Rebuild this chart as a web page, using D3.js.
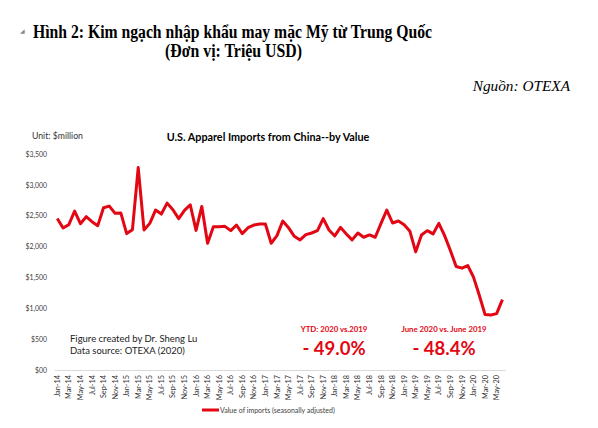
<!DOCTYPE html>
<html><head><meta charset="utf-8">
<script src="https://cdn.jsdelivr.net/npm/d3@7"></script>
<style>body{margin:0;background:#fff}svg{display:block}</style>
</head><body>
<script>
const months = ["Jan","Feb","Mar","Apr","May","Jun","Jul","Aug","Sep","Oct","Nov","Dec"];
const years = ["14","15","16","17","18","19","20"];
const categories = [];
years.forEach(y => months.forEach(m => { if (!(y === "20" && months.indexOf(m) > 5)) categories.push(m + "-" + y); }));
const values = [
  2456, 2301, 2355, 2576, 2371, 2484, 2403, 2339, 2629, 2656, 2538, 2543,
  2210, 2274, 3280, 2269, 2376, 2592, 2527, 2704, 2597, 2452, 2586, 2677,
  2262, 2650, 2054, 2323, 2323, 2328, 2258, 2349, 2210, 2306, 2349, 2366,
  2366, 2054, 2177, 2414, 2306, 2166, 2108, 2194, 2220, 2258, 2452, 2269,
  2172, 2311, 2205, 2108, 2220, 2151, 2188, 2151, 2376, 2592, 2382, 2414,
  2355, 2247, 1914, 2188, 2258, 2205, 2376, 2177, 1935, 1677, 1650, 1693,
  1505, 1210, 898, 892, 914, 1140
];
const yTicks = [0, 500, 1000, 1500, 2000, 2500, 3000, 3500];
const yTickLabels = ["$00", "$500", "$1,000", "$1,500", "$2,000", "$2,500", "$3,000", "$3,500"];
const seriesName = "Value of imports (seasonally adjusted)";

const W = 598, H = 428;
const svg = d3.select("body").append("svg").attr("width", W).attr("height", H);
const red = "#e30613";

// Header
svg.append("text").attr("x", 20).attr("y", 33).attr("font-family", "DejaVu Sans").attr("font-size", 6).attr("fill", "#888").text("◢");
svg.append("text").attr("x", 33).attr("y", 38).attr("font-family", "Liberation Serif").attr("font-weight", "bold").attr("font-size", 18).attr("fill", "#000")
  .attr("textLength", 399).attr("lengthAdjust", "spacingAndGlyphs")
  .text("Hình 2: Kim ngạch nhập khẩu may mặc Mỹ từ Trung Quốc");
svg.append("text").attr("x", 165).attr("y", 57).attr("font-family", "Liberation Serif").attr("font-weight", "bold").attr("font-size", 18).attr("fill", "#000")
  .attr("textLength", 137).attr("lengthAdjust", "spacingAndGlyphs")
  .text("(Đơn vị: Triệu USD)");
svg.append("text").attr("x", 570).attr("y", 91).attr("text-anchor", "end").attr("font-family", "Liberation Serif").attr("font-style", "italic").attr("font-size", 15.3).attr("fill", "#000")
  .text("Nguồn: OTEXA");

// Chart
const x = d3.scaleBand().domain(categories).range([54.4, 505.3]);
const y = d3.scaleLinear().domain([0, 3500]).range([370, 154]);
const fontC = "Lato, 'Open Sans', sans-serif";

svg.append("text").attr("x", 32).attr("y", 139).attr("font-family", fontC).attr("font-size", 8.7).attr("fill", "#333").text("Unit: $million");
svg.append("text").attr("x", 268).attr("y", 140.5).attr("text-anchor", "middle").attr("font-family", fontC).attr("font-weight", "bold").attr("font-size", 10.8).attr("fill", "#000")
  .text("U.S. Apparel Imports from China--by Value");

// y axis labels
const yAxis = d3.axisLeft(y).tickValues(yTicks).tickFormat((d, i) => yTickLabels[i]).tickSize(0).tickPadding(0);
const gy = svg.append("g").attr("transform", "translate(47,0)").call(yAxis);
gy.select(".domain").remove();
gy.selectAll("text").attr("font-family", fontC).attr("font-size", 6.9).attr("fill", "#404040");

// x axis
const xAxis = d3.axisBottom(x).tickValues(categories.filter((d, i) => i % 2 === 0)).tickSize(0).tickPadding(0);
const gx = svg.append("g").attr("transform", "translate(0,370)").call(xAxis);
gx.select(".domain").attr("stroke", "#d9d9d9").attr("stroke-width", 1);
gx.selectAll(".tick text").attr("font-family", fontC).attr("font-size", 7.3).attr("fill", "#333")
  .attr("text-anchor", "end").attr("transform", "rotate(-90)").attr("x", -5).attr("y", 0).attr("dy", "0.35em");

// line
const line = d3.line().x((d, i) => x(categories[i]) + x.bandwidth() / 2).y(d => y(d));
svg.append("path").datum(values).attr("d", line).attr("fill", "none").attr("stroke", red).attr("stroke-width", 3).attr("stroke-linejoin", "round");

// notes
svg.append("text").attr("x", 70).attr("y", 342).attr("font-family", fontC).attr("font-size", 9.5).attr("fill", "#222").text("Figure created by Dr. Sheng Lu");
svg.append("text").attr("x", 70).attr("y", 353.5).attr("font-family", fontC).attr("font-size", 9.5).attr("fill", "#222").text("Data source: OTEXA (2020)");

svg.append("text").attr("x", 334).attr("y", 332).attr("text-anchor", "middle").attr("font-family", fontC).attr("font-weight", "bold").attr("font-size", 7.8).attr("fill", red).text("YTD: 2020  vs.2019");
svg.append("text").attr("x", 334).attr("y", 355).attr("text-anchor", "middle").attr("font-family", fontC).attr("font-weight", "bold").attr("font-size", 18.5).attr("fill", red).text("- 49.0%");
svg.append("text").attr("x", 444).attr("y", 332).attr("text-anchor", "middle").attr("font-family", fontC).attr("font-weight", "bold").attr("font-size", 7.8).attr("fill", red).text("June 2020 vs. June 2019");
svg.append("text").attr("x", 444).attr("y", 355).attr("text-anchor", "middle").attr("font-family", fontC).attr("font-weight", "bold").attr("font-size", 18.5).attr("fill", red).text("- 48.4%");

// legend
svg.append("line").attr("x1", 202).attr("x2", 219).attr("y1", 410).attr("y2", 410).attr("stroke", red).attr("stroke-width", 3);
svg.append("text").attr("x", 220).attr("y", 412.5).attr("font-family", fontC).attr("font-size", 7).attr("fill", "#404040").text(seriesName);
</script>
</body></html>
